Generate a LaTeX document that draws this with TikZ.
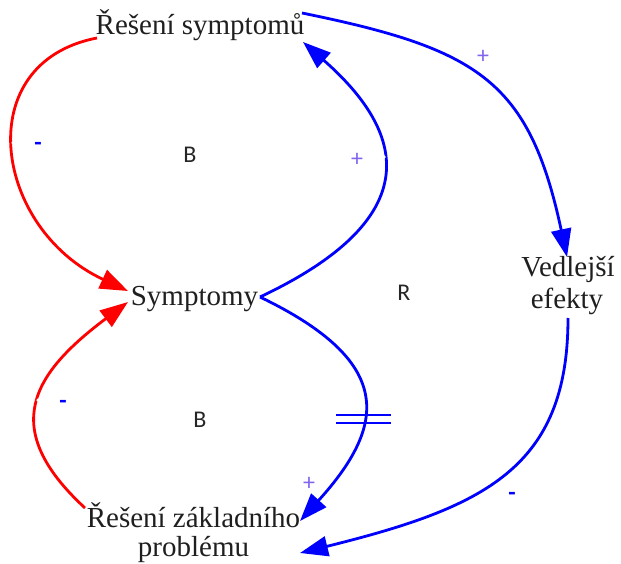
\documentclass[tikz,border=0pt]{standalone}
\usepackage{fontspec}
\setmainfont{Liberation Serif}
\newfontfamily\lblfont{Carlito}
\usetikzlibrary{arrows.meta}
\definecolor{linkblue}{RGB}{0,0,255}
\definecolor{linkred}{RGB}{255,0,0}
\definecolor{plusviolet}{RGB}{130,100,240}
\begin{document}
\begin{tikzpicture}[x=1pt,y=-1pt,
  var/.style={inner sep=0pt, anchor=base, font=\fontsize{29}{25}\selectfont, text=black!88},
  looplbl/.style={inner sep=0pt, font=\lblfont\fontsize{24}{24}\selectfont, text=black!85},
  plusmark/.style={inner sep=0pt, font=\lblfont\fontsize{24}{24}\selectfont, text=plusviolet},
  minusmark/.style={inner sep=0pt, font=\lblfont\bfseries\fontsize{24}{24}\selectfont, text=linkblue},
  link/.style={line width=2.8pt, -{Triangle[length=28pt,width=20pt]}},
  delaymark/.style={linkblue, line width=2.2pt},
  linkdot/.style={circle, fill=white, inner sep=0pt, minimum size=3.5pt}
]
\useasboundingbox (0,0) rectangle (621,564);

% variables
\node[var] (rs)  at (200,35)   {Řešení symptomů};
\node[var] (sy)  at (194.5,305) {Symptomy};
\node[var] (rz)  at (193.5,527) {Řešení základního};
\node[var] (rzb) at (193.5,556) {problému};
\node[var] (ve)  at (568,276)  {Vedlejší};
\node[var] (veb) at (567,308)  {efekty};

% balancing loops (red links)
\draw[link, linkred] ([shift={(-103,3)}]rs.base)
  .. controls (-30.6,62.4) and (-7,228) .. ([shift={(-66.5,-14)}]sy.base);
\draw[link, linkred] ([shift={(-108.5,-19)}]rz.base)
  .. controls (-1.6,428) and (32,374) .. ([shift={(-66.5,-3)}]sy.base);

% blue links
\draw[link, linkblue] ([shift={(65.5,-8)}]sy.base)
  .. controls (446.6,208.9) and (389.7,118.3) .. ([shift={(103,7)}]rs.base);
\draw[link, linkblue] ([shift={(65.5,-8)}]sy.base)
  .. controls (395,362) and (387,424.8) .. coordinate[pos=0.6] (hashpt) ([shift={(106.5,-6)}]rz.base);
\draw[link, linkblue] ([shift={(102,-22)}]rs.base)
  .. controls (478.4,49) and (529.2,80.6) .. ([shift={(-1,-19)}]ve.base);
\draw[link, linkblue] ([shift={(1,10)}]veb.base)
  .. controls (568,468) and (484.3,507.4) .. ([shift={(106.5,-3)}]rzb.base);

% delay mark
\draw[delaymark] ([shift={(-26,-4)}]hashpt) -- ([shift={(29,-4)}]hashpt);
\draw[delaymark] ([shift={(-26,4)}]hashpt) -- ([shift={(29,4)}]hashpt);

% link midpoints
\node[linkdot] (d1) at (13,143) {};
\node[linkdot] (d2) at (38,400) {};
\node[linkdot] (d3) at (470,72) {};
\node[linkdot] (d4) at (384,157) {};
\node[linkdot] (d5) at (492,480) {};

% polarities
\node[minusmark] (m1) at (38,146) {-};
\node[minusmark] (m2) at (63,404) {-};
\node[minusmark] (m3) at (512,496) {-};
\node[plusmark] (p1) at (483,57) {+};
\node[plusmark] (p2) at (357,160) {+};
\node[plusmark] (p3) at (309,484) {+};

% loop labels
\node[looplbl] (b1) at (190,155) {B};
\node[looplbl] (b2) at (200,420) {B};
\node[looplbl] (r1) at (404,293) {R};
\end{tikzpicture}
\end{document}
